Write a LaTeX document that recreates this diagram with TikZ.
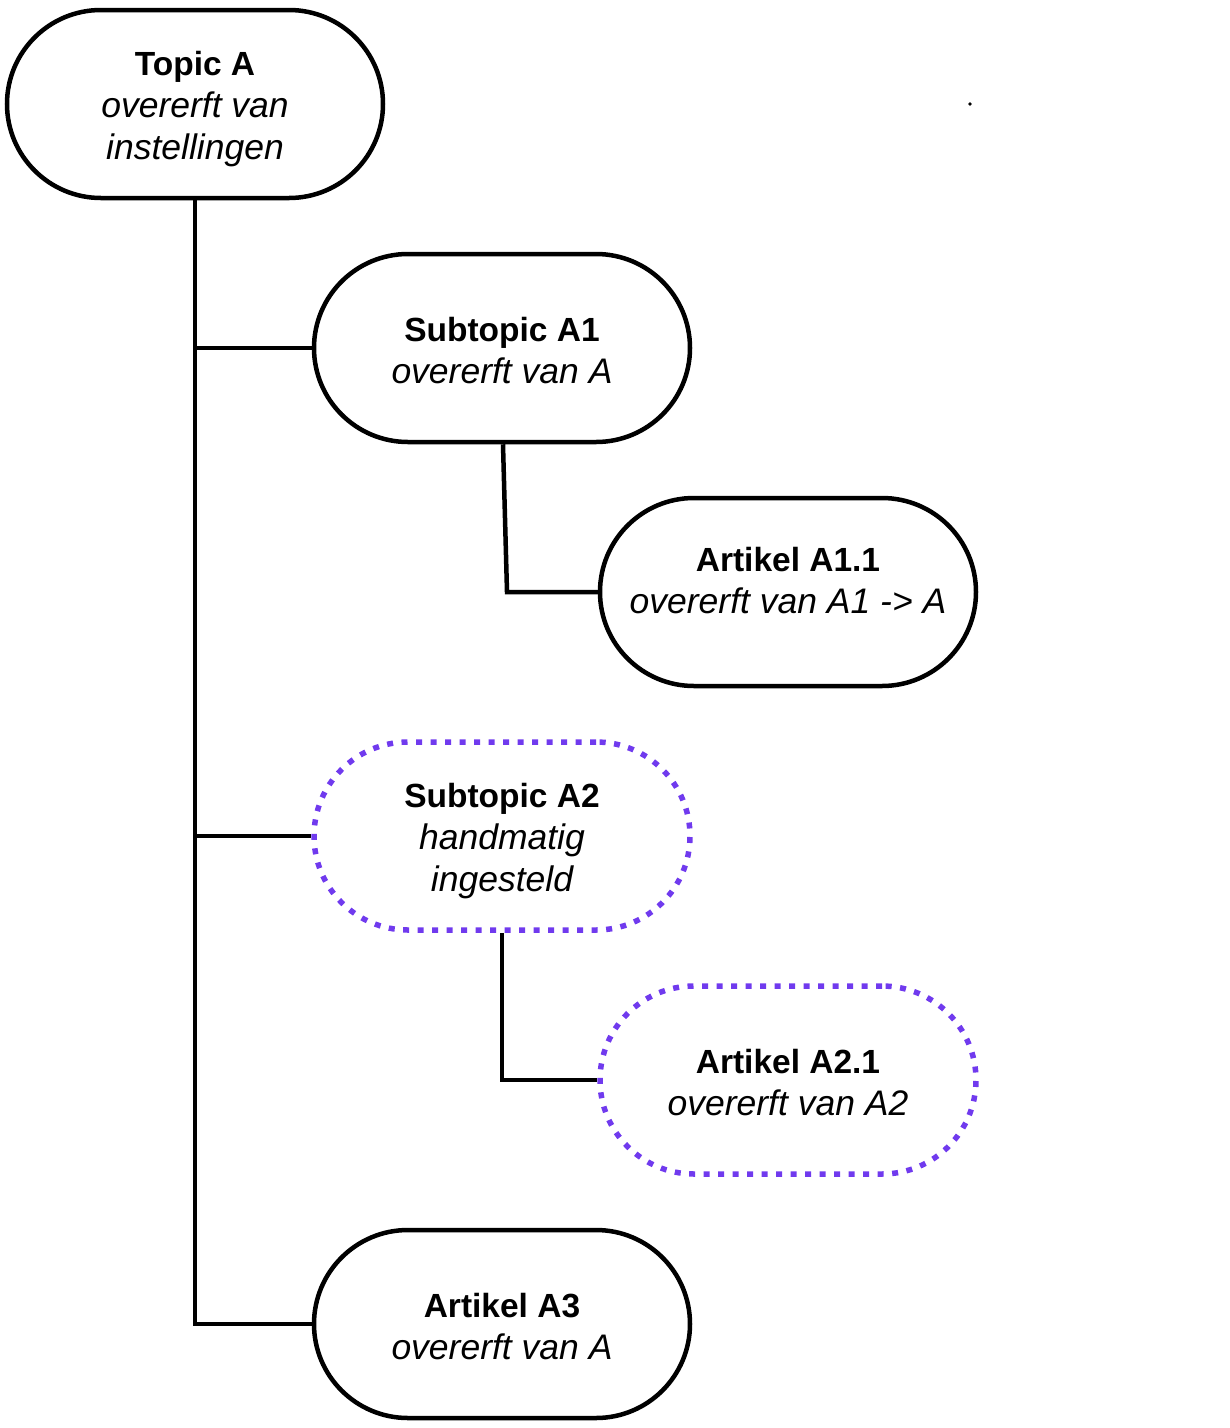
\documentclass[tikz,border=0pt]{standalone}
\usepackage{fontspec}
\setmainfont{Liberation Sans}
\definecolor{dotpurple}{RGB}{112,58,238}
\newcommand{\ttl}[1]{{\fontsize{33.5}{42}\selectfont\upshape\bfseries #1}}
\begin{document}
\begin{tikzpicture}[x=1pt,y=-1pt,
  pill/.style={draw=black, line width=4.5pt, rounded corners=94pt, minimum width=376pt, minimum height=188pt, inner sep=0pt},
  dottedpill/.style={pill, draw=dotpurple, line width=5.5pt, dash pattern=on 6pt off 8.5pt},
  txt/.style={align=center, inner sep=0pt, font=\fontsize{35.5}{42}\selectfont\itshape},
  link/.style={line width=4.5pt, draw=black}]
\useasboundingbox (0,0) rectangle (1230,1428);
\node[pill] (topA) at (195,104) {};
\node[pill] (subA1) at (502,348) {};
\node[pill] (artA11) at (788,592) {};
\node[dottedpill] (subA2) at (502,836) {};
\node[dottedpill] (artA21) at (788,1080) {};
\node[pill] (artA3) at (502,1324) {};
\node[txt] (topAt) at ([yshift=-5pt]topA.center) {\ttl{Topic A}\\overerft van\\instellingen};
\node[txt] (subA1t) at ([yshift=-3pt]subA1.center) {\ttl{Subtopic A1}\\overerft van A};
\node[txt] (artA11t) at ([yshift=11pt]artA11.center) {\ttl{Artikel A1.1}\\overerft van A1 -> A};
\node[txt] (subA2t) at ([yshift=-5.5pt]subA2.center) {\ttl{Subtopic A2}\\handmatig\\ingesteld};
\node[txt] (artA21t) at ([yshift=-3pt]artA21.center) {\ttl{Artikel A2.1}\\overerft van A2};
\node[txt] (artA3t) at ([yshift=-3pt]artA3.center) {\ttl{Artikel A3}\\overerft van A};
\fill (970,104) circle (1.8pt);
\draw[link] (topA.south) -- (topA.south |- artA3.west) -- (artA3.west);
\draw[link] (topA.south |- subA1.west) -- (subA1.west);
\draw[link] (topA.south |- subA2.west) -- (subA2.west);
\draw[link] ([xshift=1pt]subA1.south) -- ([xshift=5pt]subA1.south |- artA11.west) -- (artA11.west);
\draw[link] (subA2.south) -- (subA2.south |- artA21.west) -- (artA21.west);
\end{tikzpicture}
\end{document}
